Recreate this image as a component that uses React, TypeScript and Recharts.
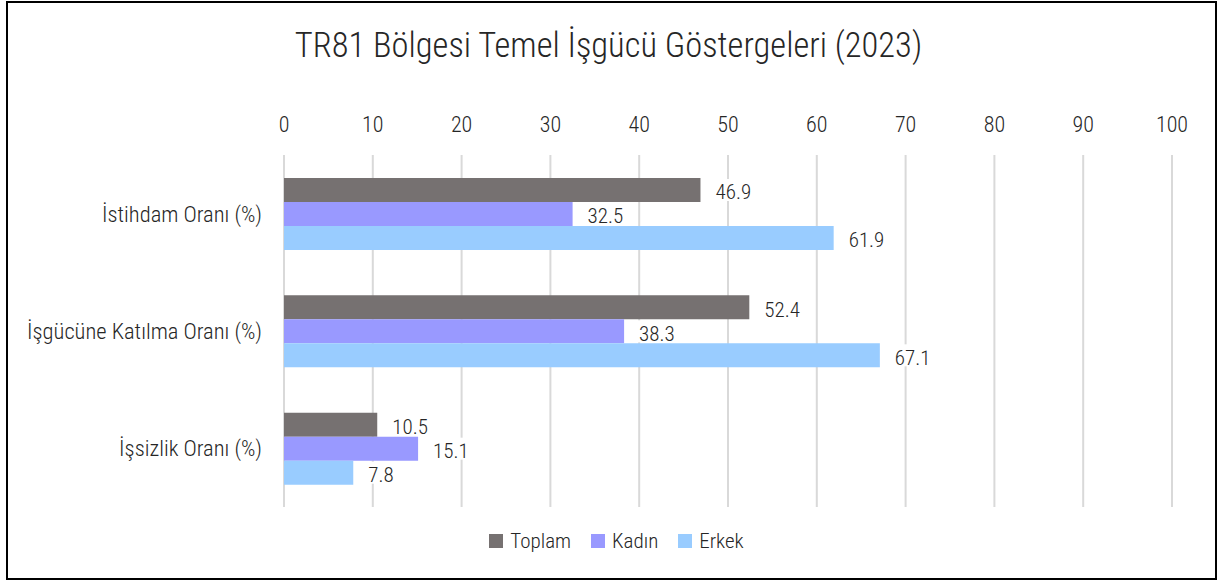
import React from 'react';
import { BarChart, Bar, XAxis, YAxis, CartesianGrid, Legend, LabelList } from 'recharts';

const categories = ['İstihdam Oranı (%)', 'İşgücüne Katılma Oranı (%)', 'İşsizlik Oranı (%)'];
const toplam = [46.9, 52.4, 10.5];
const kadin = [32.5, 38.3, 15.1];
const erkek = [61.9, 67.1, 7.8];
const xTicks = [0, 10, 20, 30, 40, 50, 60, 70, 80, 90, 100];

const SERIES = [
  { key: 'Toplam', color: '#767171' },
  { key: 'Kadın', color: '#9999FF' },
  { key: 'Erkek', color: '#99CCFF' },
];

const FONT = '"Roboto Condensed", "Liberation Sans Narrow", "DejaVu Sans Condensed", "Arial Narrow", Roboto, sans-serif';
const TEXT = '#262626';

const data = categories.map((name, i) => ({
  name,
  Toplam: toplam[i],
  'Kadın': kadin[i],
  Erkek: erkek[i],
}));

// value label with a white box behind it, like the original
const ValueLabel = (props: any) => {
  const { x, y, width, height, value } = props;
  const str = Number(value).toFixed(1);
  const tx = x + width + 15;
  const w = str.length * 10 + 6;
  return (
    <g>
      <rect x={tx - 3} y={y + 1} width={w} height={height - 2} fill="#fff" />
      <text x={tx} y={y + height / 2 + 2} dy="0.355em" fill={TEXT} fontSize={21} fontWeight={300} fontFamily={FONT}>
        {str}
      </text>
    </g>
  );
};

const LegendContent = () => (
  <div
    style={{
      display: 'flex',
      justifyContent: 'center',
      gap: 20,
      paddingTop: 22,
      paddingLeft: 16,
      fontFamily: FONT,
      fontSize: 21,
      fontWeight: 300,
      color: TEXT,
    }}
  >
    {SERIES.map((s) => (
      <div key={s.key} style={{ display: 'flex', alignItems: 'center' }}>
        <span style={{ width: 14, height: 14, background: s.color, display: 'inline-block', marginRight: 7 }} />
        <span>{s.key}</span>
      </div>
    ))}
  </div>
);

export default function App() {
  return (
    <div style={{ position: 'absolute', left: 0, top: 0, width: 1217, height: 580, background: '#fff' }}>
      <div
        style={{
          position: 'absolute',
          left: 6,
          top: 1,
          width: 1211,
          height: 579,
          border: '2px solid #000',
          boxSizing: 'border-box',
        }}
      />
      <div
        style={{
          position: 'absolute',
          left: 0,
          top: 25,
          width: 1217,
          textAlign: 'center',
          fontFamily: FONT,
          fontSize: 34.5,
          fontWeight: 300,
          color: TEXT,
        }}
      >
        TR81 Bölgesi Temel İşgücü Göstergeleri (2023)
      </div>
      <div style={{ position: 'absolute', left: 0, top: 0 }}>
        <BarChart
          width={1217}
          height={580}
          data={data}
          layout="vertical"
          barGap={0}
          barSize={24}
          margin={{ top: 95, right: 45, left: 0, bottom: 18 }}
        >
          <CartesianGrid horizontal={false} stroke="#d9d9d9" strokeWidth={2} />
          <XAxis
            type="number"
            orientation="top"
            domain={[0, 100]}
            ticks={xTicks}
            height={60}
            axisLine={false}
            tickLine={false}
            tickSize={0}
            tickMargin={23}
            interval={0}
            tick={{ fontSize: 22, fontWeight: 300, fill: TEXT, fontFamily: FONT }}
          />
          <YAxis
            type="category"
            dataKey="name"
            width={284}
            axisLine={false}
            tickLine={false}
            tickSize={0}
            tickMargin={22}
            tick={{ fontSize: 22.5, fontWeight: 300, fill: TEXT, fontFamily: FONT }}
          />
          <Legend
            verticalAlign="bottom"
            height={55}
            wrapperStyle={{ left: 0, width: 1217 }}
            content={<LegendContent />}
          />
          {SERIES.map((s) => (
            <Bar key={s.key} dataKey={s.key} fill={s.color} isAnimationActive={false}>
              <LabelList dataKey={s.key} content={<ValueLabel />} />
            </Bar>
          ))}
        </BarChart>
      </div>
    </div>
  );
}
